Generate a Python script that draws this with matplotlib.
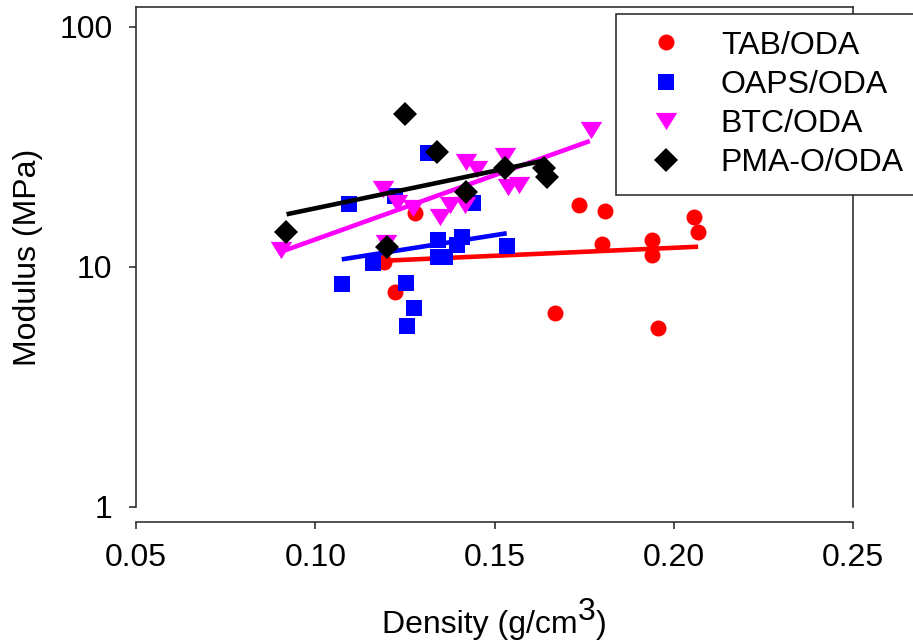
import numpy as np
import matplotlib
matplotlib.use("Agg")
import matplotlib.pyplot as plt

plt.rcParams["font.family"] = ["Liberation Sans", "DejaVu Sans"]

# ── DATA ────────────────────────────────────────────────────
tab_x = [0.1192, 0.1222, 0.1278, 0.1669, 0.1736, 0.1808, 0.1800, 0.1939, 0.1939, 0.2056, 0.2068, 0.1956]
tab_y = [10.49, 7.87, 16.79, 6.43, 18.13, 17.12, 12.47, 12.96, 11.22, 16.16, 13.99, 5.57]

oaps_x = [0.1094, 0.1222, 0.1315, 0.1440, 0.1075, 0.1161, 0.1253, 0.1275, 0.1256,
          0.1342, 0.1409, 0.1395, 0.1342, 0.1362, 0.1535]
oaps_y = [18.30, 19.76, 29.85, 18.48, 8.50, 10.39, 8.58, 6.75, 5.68,
          12.96, 13.34, 12.35, 11.00, 11.00, 12.23]

btc_x = [0.0904, 0.1189, 0.1228, 0.1273, 0.1197, 0.1348, 0.1376, 0.1418, 0.1420,
         0.1451, 0.1529, 0.1538, 0.1568, 0.1769]
btc_y = [11.77, 21.13, 18.48, 17.61, 12.59, 16.16, 18.13, 18.13, 27.38,
         25.61, 29.00, 21.54, 21.96, 37.22]

pma_x = [0.1250, 0.1340, 0.0918, 0.1200, 0.1420, 0.1529, 0.1638, 0.1647]
pma_y = [43.41, 30.22, 14.03, 12.08, 20.59, 25.93, 25.78, 23.64]

# fitted trend lines (end points)
tab_fit_x, tab_fit_y = [0.1192, 0.2068], [10.62, 12.15]
oaps_fit_x, oaps_fit_y = [0.1074, 0.1534], [10.76, 13.82]
btc_fit_x, btc_fit_y = [0.0900, 0.1766], [11.51, 33.50]
pma_fit_x, pma_fit_y = [0.0920, 0.1646], [16.58, 27.92]

labels = ["TAB/ODA", "OAPS/ODA", "BTC/ODA", "PMA-O/ODA"]
colors = ["#ff0000", "#0000ff", "#ff00ff", "#000000"]

FS = 23

# ── FIGURE ──────────────────────────────────────────────────
W, H = 913, 640
fig = plt.figure(figsize=(W / 100, H / 100), dpi=100)
ax = fig.add_axes([136 / W, (H - 507) / H, (853 - 136) / W, 500 / H])

tri = [(-1, 0.8), (1, 0.8), (0, -0.8)]
series = [
    (tab_x, tab_y, tab_fit_x, tab_fit_y, "o", 11.5),
    (oaps_x, oaps_y, oaps_fit_x, oaps_fit_y, "s", 11.0),
    (btc_x, btc_y, btc_fit_x, btc_fit_y, tri, 15.5),
    (pma_x, pma_y, pma_fit_x, pma_fit_y, "D", 12.0),
]
z = 3
for (sx, sy, fx, fy, mk, ms), lab, col in zip(series, labels, colors):
    ax.plot(sx, sy, linestyle="none", marker=mk, markersize=ms, color=col,
            markeredgewidth=0, label=lab, zorder=z)
    ax.plot(fx, fy, color=col, linewidth=3.3, solid_capstyle="butt", zorder=z + 1)
    z += 2

ax.set_yscale("log")
ax.set_xlim(0.05, 0.25)
ax.set_ylim(1, 100 * 10 ** (20 / 240))
ax.set_xticks([0.05, 0.10, 0.15, 0.20, 0.25])
ax.set_xticklabels(["0.05", "0.10", "0.15", "0.20", "0.25"])
ax.set_yticks([1, 10, 100])
ax.set_yticklabels(["1", "10", "100"])
ax.yaxis.set_minor_locator(matplotlib.ticker.NullLocator())

for s in ax.spines.values():
    s.set_linewidth(1.1)
    s.set_color("#222222")
ax.spines["bottom"].set_position(("outward", 11))
ax.tick_params(axis="both", which="major", direction="out", length=5,
               width=1.1, color="#222222", labelsize=FS, pad=10)
ax.tick_params(axis="y", pad=12)

# x label with a full-size raised superscript, built from three pieces
pieces = [("Density (g/cm", 0), ("3", 13), (")", 0)]
fig.canvas.draw()
r = fig.canvas.get_renderer()
widths = []
for txt, _ in pieces:
    t = fig.text(0, 0, txt, fontsize=FS)
    widths.append(t.get_window_extent(r).width)
    t.remove()
x0 = (136 + 853) / 2 - sum(widths) / 2
for (txt, rise), w in zip(pieces, widths):
    fig.text(x0 / W, (H - 633 + rise) / H, txt, fontsize=FS, ha="left", va="baseline")
    x0 += w

ax.text(-0.151, 0.5, "Modulus (MPa)", transform=ax.transAxes, rotation=90,
        ha="center", va="center", fontsize=FS)

leg = ax.legend(loc="upper left", bbox_to_anchor=(616 / W, 0, 1.01 - 616 / W, 1 - 14 / H),
                bbox_transform=fig.transFigure, mode="expand", borderaxespad=0,
                fontsize=FS, frameon=True, fancybox=False, borderpad=0.52,
                handlelength=2.07, handletextpad=0.69, labelspacing=0.29,
                numpoints=1)
leg.get_frame().set_edgecolor("#222222")
leg.get_frame().set_linewidth(1.1)
leg.get_frame().set_alpha(1)

fig.savefig("out.png", dpi=100)
